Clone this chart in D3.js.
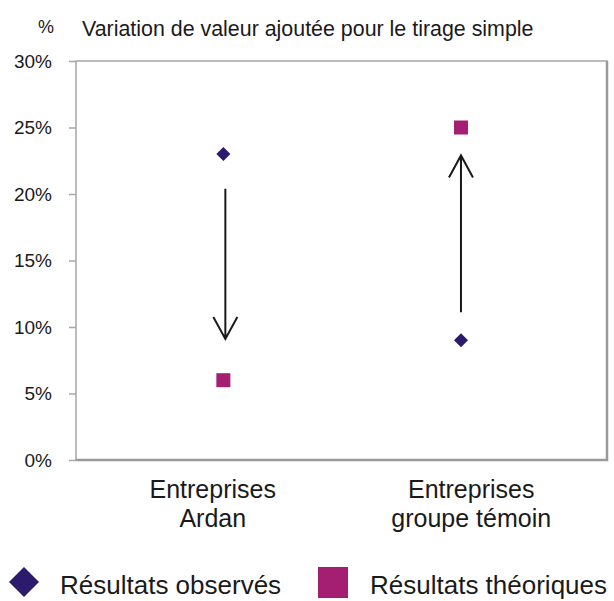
<!DOCTYPE html>
<html>
<head>
<meta charset="utf-8">
<script src="https://cdn.jsdelivr.net/npm/d3@7"></script>
<style>
body { margin: 0; background: #fff; }
text { font-family: "Liberation Sans", Arial, sans-serif; fill: #1a1a1a; }
</style>
</head>
<body>
<svg id="chart"></svg>
<script>
var categories = [['Entreprises', 'Ardan'], ['Entreprises', 'groupe témoin']];
var observed = [23, 9];
var theoretical = [6, 25];
var markerPos = [1.055, 1.95];
var arrowFrom = [20.4, 11.1];
var arrowTo = [9.1, 22.9];
var yTicks = [0, 5, 10, 15, 20, 25, 30];
var legendLabels = ['Résultats observés', 'Résultats théoriques'];

var width = 614, height = 601;
var plotLeft = 76, plotRight = 607, plotTop = 61, plotBottom = 460;
var obsColor = '#2c1a6c', theoColor = '#a41f72';

var svg = d3.select('#chart')
    .attr('width', width)
    .attr('height', height);

var xScale = d3.scaleLinear()
    .domain([0.5, 2.5])
    .range([plotLeft, plotRight]);

var yScale = d3.scaleLinear()
    .domain([0, 30])
    .range([plotBottom, plotTop]);

// frame
svg.append('rect')
    .attr('x', plotLeft)
    .attr('y', plotTop)
    .attr('width', plotRight - plotLeft)
    .attr('height', plotBottom - plotTop)
    .attr('fill', 'none')
    .attr('stroke', '#a6a6a6')
    .attr('stroke-width', 1.5);
svg.append('path')
    .attr('d', 'M' + plotRight + ',' + plotTop + 'V' + plotBottom + 'H' + plotLeft)
    .attr('fill', 'none')
    .attr('stroke', '#9a9a9a')
    .attr('stroke-width', 2.5);

var yAxis = d3.axisLeft(yScale)
    .tickValues(yTicks)
    .tickSize(7)
    .tickPadding(17)
    .tickFormat(d => d + '%');

var gy = svg.append('g')
    .attr('transform', 'translate(' + plotLeft + ',0)')
    .call(yAxis);
gy.select('.domain').remove();
gy.selectAll('line').attr('stroke', '#a6a6a6').attr('stroke-width', 1.5);
gy.selectAll('text')
    .style('font-family', '"Liberation Sans", Arial, sans-serif')
    .style('font-size', '19px')
    .attr('fill', '#1a1a1a');

// title
svg.append('text')
    .attr('x', 38)
    .attr('y', 33)
    .style('font-size', '18px')
    .text('%');
svg.append('text')
    .attr('x', 82)
    .attr('y', 36)
    .style('font-size', '21.4px')
    .text('Variation de valeur ajoutée pour le tirage simple');

// category labels
categories.forEach(function(c, i) {
    var cx = xScale(i + 1) + (i === 0 ? 4 : -3);
    svg.append('text')
        .attr('x', cx)
        .attr('y', 498)
        .attr('text-anchor', 'middle')
        .style('font-size', '25px')
        .selectAll('tspan')
        .data(c)
        .enter()
        .append('tspan')
        .attr('x', cx)
        .attr('dy', (d, j) => j === 0 ? 0 : 29)
        .text(d => d);
});

// arrows
arrowFrom.forEach(function(f, i) {
    var x = xScale(markerPos[i]) + (i === 0 ? 2 : 0);
    var y0 = yScale(f), y1 = yScale(arrowTo[i]);
    var dir = y1 > y0 ? -1 : 1;
    svg.append('path')
        .attr('d', 'M' + x + ',' + y0 + 'V' + y1 +
            'M' + (x - 12) + ',' + (y1 + dir * 22) + 'L' + x + ',' + y1 + 'L' + (x + 12) + ',' + (y1 + dir * 22))
        .attr('fill', 'none')
        .attr('stroke', '#1a1a1a')
        .attr('stroke-width', 2);
});

// markers
svg.selectAll('.obs')
    .data(observed)
    .enter()
    .append('path')
    .attr('class', 'obs')
    .attr('d', 'M0,-7L7,0L0,7L-7,0Z')
    .attr('transform', (d, i) => 'translate(' + xScale(markerPos[i]) + ',' + yScale(d) + ')')
    .attr('fill', obsColor);

svg.selectAll('.theo')
    .data(theoretical)
    .enter()
    .append('rect')
    .attr('class', 'theo')
    .attr('x', (d, i) => xScale(markerPos[i]) - 7)
    .attr('y', d => yScale(d) - 7)
    .attr('width', 14)
    .attr('height', 14)
    .attr('fill', theoColor);

// legend
svg.append('path')
    .attr('d', 'M0,-15L15,0L0,15L-15,0Z')
    .attr('transform', 'translate(24,582)')
    .attr('fill', obsColor);
svg.append('rect')
    .attr('x', 318)
    .attr('y', 567)
    .attr('width', 30)
    .attr('height', 31)
    .attr('fill', theoColor);
svg.append('text')
    .attr('x', 60)
    .attr('y', 594)
    .style('font-size', '26px')
    .text(legendLabels[0]);
svg.append('text')
    .attr('x', 370)
    .attr('y', 594)
    .style('font-size', '26px')
    .text(legendLabels[1]);
</script>
</body>
</html>
